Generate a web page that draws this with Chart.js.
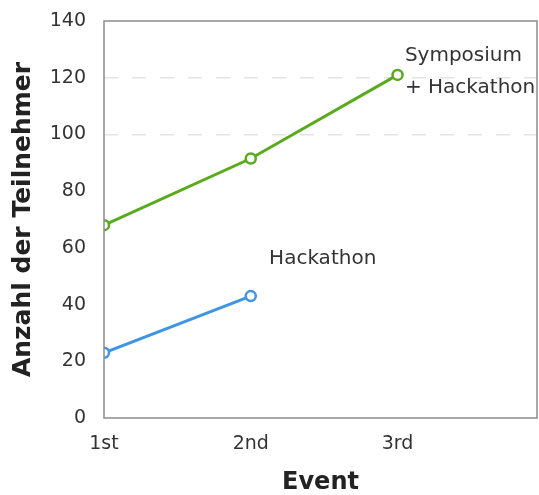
<!DOCTYPE html>
<html>
<head>
<meta charset="utf-8">
<script src="https://cdn.jsdelivr.net/npm/chart.js@4/dist/chart.umd.min.js"></script>
<style>
  html, body { margin: 0; padding: 0; background: #fff; }
  #wrap { width: 539px; height: 495px; }
</style>
</head>
<body>
<div id="wrap"><canvas id="chart" width="539" height="495"></canvas></div>
<script>
// event numbers on the x axis
const eventLabels = ["1st", "2nd", "3rd"];
const eventPositions = [1, 2, 3];

// participants per event
const hackathonValues = [23, 43];
const symposiumValues = [68, 91.5, 121];

// y axis ticks
const yTicks = [0, 20, 40, 60, 80, 100, 120, 140];

// line labels, placed in data coordinates
const seriesNotes = [
    { lines: ["Hackathon"], x: 2.49, y: 56.2, align: "center" },
    { lines: ["Symposium", "+ Hackathon"], x: 3.05, y: 127.8, align: "left" },
];

const toPoints = (values) => values.map((v, i) => ({ x: eventPositions[i], y: v }));

const frameAndNotes = {
    id: "frameAndNotes",
    afterDatasetsDraw(chart) {
        const { ctx, chartArea, scales } = chart;
        ctx.save();
        ctx.strokeStyle = "#8c8c8c";
        ctx.lineWidth = 1.5;
        ctx.strokeRect(chartArea.left, chartArea.top, chartArea.right - chartArea.left, chartArea.bottom - chartArea.top);

        ctx.fillStyle = "#333";
        ctx.font = "20px 'DejaVu Sans'";
        ctx.textBaseline = "middle";
        seriesNotes.forEach((note) => {
            const px = scales.x.getPixelForValue(note.x);
            const py = scales.y.getPixelForValue(note.y);
            ctx.textAlign = note.align;
            note.lines.forEach((line, i) => ctx.fillText(line, px, py + i * 32));
        });
        ctx.restore();
    },
};

new Chart(document.getElementById("chart"), {
    type: "line",
    data: {
        datasets: [
            {
                label: "Symposium + Hackathon",
                data: toPoints(symposiumValues),
                borderColor: "#5aaa1e",
                backgroundColor: "#ffffff",
                borderWidth: 3,
                pointRadius: 5,
                pointBorderWidth: 2.5,
                pointBackgroundColor: "#ffffff",
                pointBorderColor: "#5aaa1e",
            },
            {
                label: "Hackathon",
                data: toPoints(hackathonValues),
                borderColor: "#3f94e4",
                backgroundColor: "#ffffff",
                borderWidth: 3,
                pointRadius: 5,
                pointBorderWidth: 2.5,
                pointBackgroundColor: "#ffffff",
                pointBorderColor: "#3f94e4",
            },
        ],
    },
    options: {
        responsive: false,
        animation: false,
        layout: { autoPadding: false, padding: { top: 21, right: 2, left: 0, bottom: 0 } },
        plugins: {
            legend: { display: false },
            tooltip: { enabled: false },
        },
        scales: {
            x: {
                type: "linear",
                min: 1,
                max: 3.95,
                afterFit: (scale) => {
                    scale.height = 77;
                    scale.paddingLeft = 0;
                    scale.paddingRight = 0;
                },
                ticks: {
                    stepSize: 1,
                    includeBounds: false,
                    padding: 15,
                    color: "#333",
                    font: { family: "'DejaVu Sans'", size: 19 },
                    callback: (value) => eventLabels[eventPositions.indexOf(value)] ?? "",
                },
                grid: { display: false, drawTicks: false },
                border: { display: false },
                title: {
                    display: true,
                    text: "Event",
                    color: "#222",
                    font: { family: "'DejaVu Sans'", size: 24, weight: "bold", lineHeight: 1 },
                    padding: { top: 0, bottom: 0 },
                },
            },
            y: {
                min: 0,
                max: 140,
                afterFit: (scale) => {
                    scale.width = 104;
                    scale.paddingTop = 0;
                    scale.paddingBottom = 0;
                },
                afterBuildTicks: (scale) => { scale.ticks = yTicks.map((v) => ({ value: v })); },
                ticks: {
                    padding: 18,
                    color: "#333",
                    font: { family: "'DejaVu Sans'", size: 19 },
                },
                grid: {
                    drawTicks: false,
                    color: (c) => (c.tick && (c.tick.value === 100 || c.tick.value === 120) ? "#e4e4e4" : "rgba(0,0,0,0)"),
                    lineWidth: 1.5,
                },
                border: { display: false, dash: [14, 14] },
                title: {
                    display: true,
                    text: "Anzahl der Teilnehmer",
                    color: "#222",
                    font: { family: "'DejaVu Sans'", size: 25, weight: "bold", lineHeight: 1 },
                    padding: { top: 11, bottom: 0 },
                },
            },
        },
    },
    plugins: [frameAndNotes],
});
</script>
</body>
</html>
